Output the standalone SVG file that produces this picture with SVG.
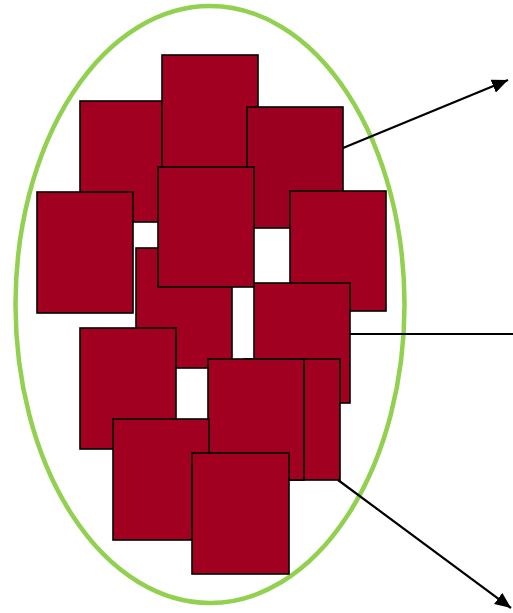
<svg xmlns="http://www.w3.org/2000/svg" width="513" height="613" viewBox="0 0 513 613">
  <style>
    .box { fill: #a20020; stroke: #000; stroke-width: 1.6; }
    .dark { fill: #9c0020; }
    .conn { stroke: #000; stroke-width: 2.2; fill: none; }
  </style>
  <defs>
    <marker id="arrow" markerUnits="userSpaceOnUse" markerWidth="18" markerHeight="14" refX="16" refY="7" orient="auto">
      <path d="M0,0 L16,7 L0,14 Z" fill="#000"/>
    </marker>
  </defs>
  <rect width="513" height="613" fill="#fff"/>
  <g id="group-ellipse">
    <ellipse cx="210" cy="304.5" rx="194.5" ry="298.5" fill="none" stroke="#92d050" stroke-width="4.5"/>
  </g>
  <g id="node-1"><rect class="box" x="80" y="101" width="96" height="121"/></g>
  <g id="node-2"><rect class="box" x="162" y="55" width="96" height="121"/></g>
  <g id="node-3"><rect class="box dark" x="247" y="107" width="96" height="121"/></g>
  <g id="node-4"><rect class="box" x="37" y="192" width="96" height="121"/></g>
  <g id="node-6"><rect class="box" x="136" y="248" width="96" height="120"/></g>
  <g id="node-5"><rect class="box" x="158" y="167" width="96" height="120"/></g>
  <g id="node-7"><rect class="box" x="290" y="191" width="96" height="120"/></g>
  <g id="node-8"><rect class="box" x="254" y="283" width="96" height="120"/></g>
  <g id="node-9"><rect class="box" x="80" y="328" width="96" height="121"/></g>
  <g id="node-10"><rect class="box" x="244" y="359" width="96" height="121"/></g>
  <g id="node-11"><rect class="box" x="208" y="359" width="96" height="121"/></g>
  <g id="node-12"><rect class="box" x="113" y="419" width="96" height="121"/></g>
  <g id="node-13"><rect class="box" x="192" y="453" width="97" height="121"/></g>
  <g id="connectors">
    <line class="conn" x1="343" y1="148" x2="508" y2="80" marker-end="url(#arrow)"/>
    <line class="conn" x1="350" y1="334" x2="513" y2="334"/>
    <line class="conn" x1="338" y1="480" x2="511" y2="608" marker-end="url(#arrow)"/>
  </g>
</svg>
